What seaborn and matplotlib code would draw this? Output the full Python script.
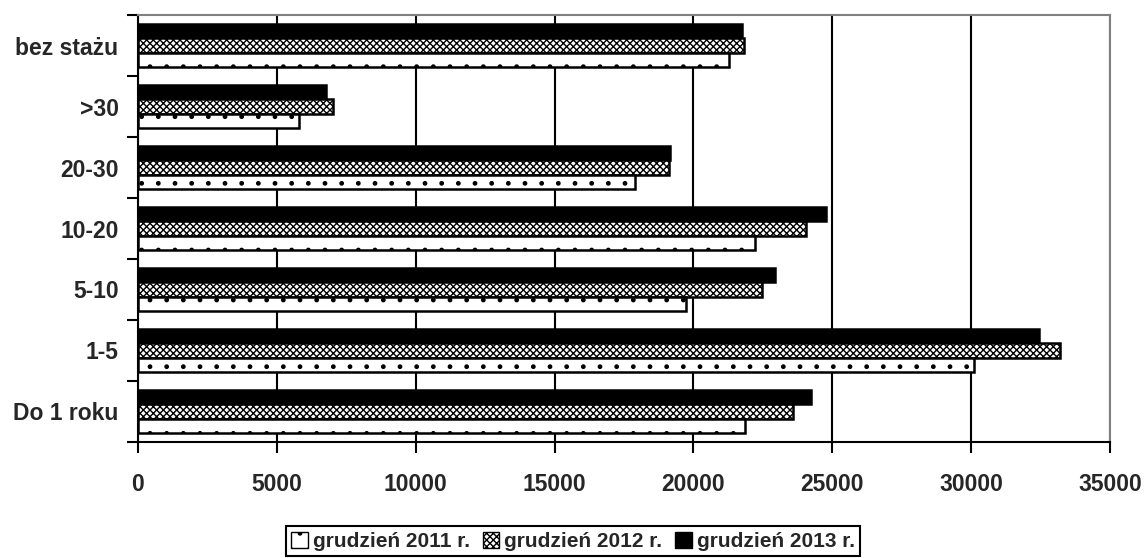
import pandas as pd
import matplotlib
matplotlib.use("Agg")
import matplotlib.pyplot as plt
import matplotlib.patches as mpatches
import seaborn as sns

# Data
categories = ["bez stażu", ">30", "20-30", "10-20", "5-10", "1-5", "Do 1 roku"]
series_names = ["grudzień 2011 r.", "grudzień 2012 r.", "grudzień 2013 r."]
values_2011 = [21270, 5780, 17890, 22200, 19750, 30090, 21870]
values_2012 = [21810, 7020, 19120, 24070, 22480, 33200, 23600]
values_2013 = [21740, 6770, 19150, 24780, 22930, 32460, 24250]
x_ticks = [0, 5000, 10000, 15000, 20000, 25000, 30000, 35000]

data = pd.DataFrame({
    "staz": categories * 3,
    "okres": [series_names[0]] * 7 + [series_names[1]] * 7 + [series_names[2]] * 7,
    "liczba": values_2011 + values_2012 + values_2013,
})

sns.set_style("white")
plt.rcParams["font.family"] = ["Liberation Sans", "DejaVu Sans"]
plt.rcParams["font.weight"] = "bold"
plt.rcParams["hatch.linewidth"] = 1.0

# top-to-bottom within a group: 2013, 2012, 2011
hue_order = [series_names[2], series_names[1], series_names[0]]
styles = {
    series_names[0]: dict(facecolor="white", hatch="."),
    series_names[1]: dict(facecolor="white", hatch="xxxxx"),
    series_names[2]: dict(facecolor="black", hatch=None),
}

fig = plt.figure(figsize=(11.46, 5.58), dpi=100)
ax = fig.add_axes([0.1204, 0.2079, 0.8482, 0.7652])

sns.barplot(data=data, y="staz", x="liczba", hue="okres", order=categories,
            hue_order=hue_order, orient="h", width=0.7, palette=["black"] * 3,
            edgecolor="black", linewidth=1.8, legend=False, ax=ax)

for name, cont in zip(hue_order, ax.containers):
    st = styles[name]
    for bar in cont:
        bar.set_facecolor(st["facecolor"])
        bar.set_edgecolor("black")
        if st["hatch"]:
            bar.set_hatch(st["hatch"])

ax.set_xlim(0, 35000)
ax.set_xticks(x_ticks)
ax.set_xticklabels([str(t) for t in x_ticks], fontsize=16.5, fontweight="bold")
ax.set_yticklabels(categories, fontsize=16.5, fontweight="bold")
ax.set_ylim(len(categories) - 0.5, -0.5)
ax.set_xlabel("")
ax.set_ylabel("")

ax.xaxis.grid(True, color="black", linewidth=1.5)
ax.set_axisbelow(True)

# y tick marks between categories
ax.set_yticks([i + 0.5 for i in range(-1, len(categories))], minor=True)
ax.tick_params(axis="y", which="major", length=0, pad=14)
ax.tick_params(axis="y", which="minor", length=8, width=1.5, color="black", direction="out", left=True)
ax.tick_params(axis="x", which="major", length=8, width=1.5, color="black", direction="out", bottom=True, pad=14)

for side in ["left", "bottom"]:
    ax.spines[side].set_color("black")
    ax.spines[side].set_linewidth(1.5)
for side in ["top", "right"]:
    ax.spines[side].set_color("#808080")
    ax.spines[side].set_linewidth(1.5)

handles = [mpatches.Patch(facecolor=styles[n]["facecolor"], edgecolor="black",
                          hatch=styles[n]["hatch"], label=n) for n in series_names]
leg = fig.legend(handles=handles, loc="center", bbox_to_anchor=(0.5, 0.03), ncol=3,
                 frameon=True, fancybox=False, edgecolor="black", framealpha=1,
                 prop={"size": 15, "weight": "bold"}, handlelength=0.8,
                 handleheight=0.8, handletextpad=0.25, columnspacing=0.6,
                 borderpad=0.25, borderaxespad=0)
leg.get_frame().set_linewidth(1.5)

fig.savefig("out.png", dpi=100)
